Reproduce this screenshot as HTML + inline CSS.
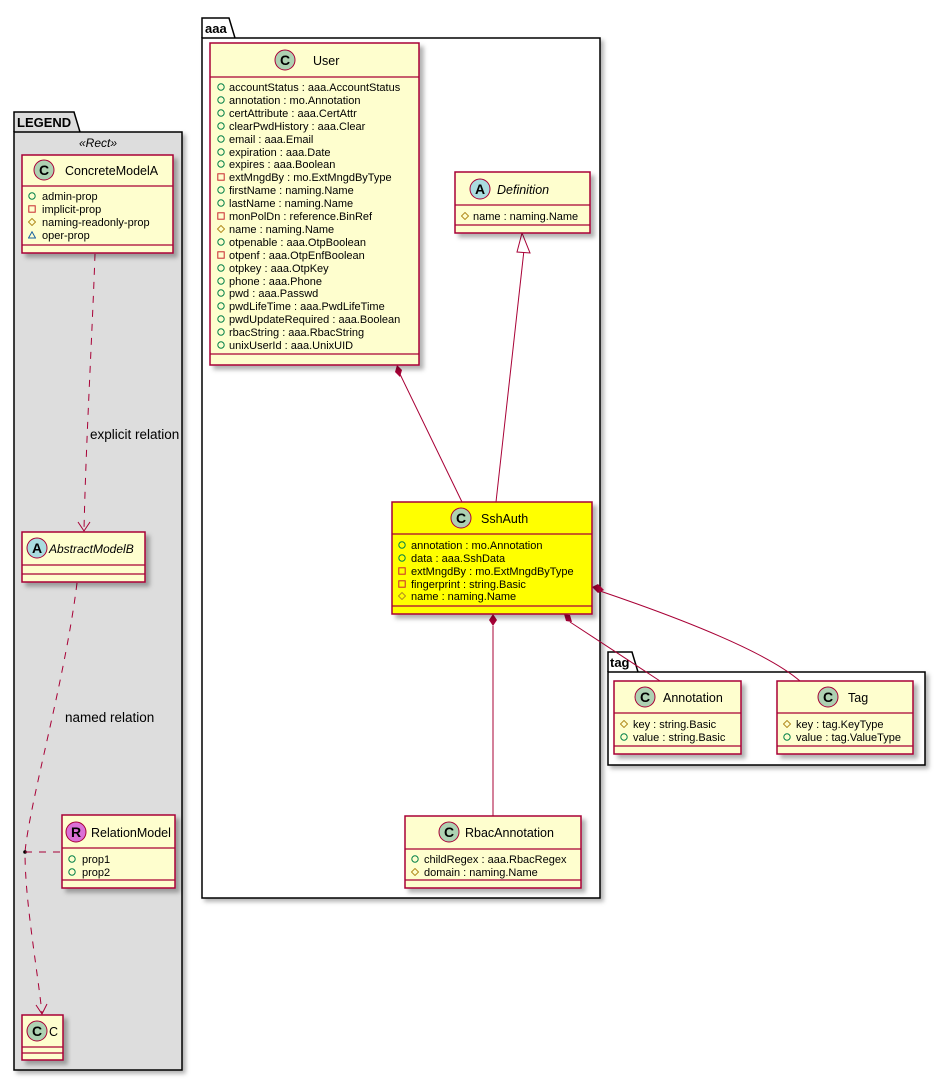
<!DOCTYPE html>
<html><head><meta charset="utf-8"><style>
html,body{margin:0;padding:0;background:#fff;}
svg{display:block;font-family:"Liberation Sans","DejaVu Sans",sans-serif;}
.a{font-size:11px;fill:#000;}
.h{font-size:12.5px;fill:#000;}
.cls{fill:#FEFECE;stroke:#A80036;stroke-width:1.5;filter:url(#sh);}
.sep{stroke:#A80036;stroke-width:1.2;}
.ln{stroke:#A80036;stroke-width:1;fill:none;}
.dl{stroke:#A80036;stroke-width:1;fill:none;stroke-dasharray:7,7;}
.pk{fill:#fff;stroke:#000;stroke-width:1.5;}
.pt{font-size:13px;font-weight:bold;fill:#000;}
</style></head><body>
<svg width="944" height="1080" viewBox="0 0 944 1080">
<defs>
<filter id="sh" x="-10%" y="-10%" width="130%" height="130%"><feDropShadow dx="4" dy="4" stdDeviation="2" flood-color="#000" flood-opacity="0.3"/></filter>
<filter id="sh2" x="-10%" y="-10%" width="130%" height="130%"><feDropShadow dx="3" dy="3" stdDeviation="2" flood-color="#000" flood-opacity="0.3"/></filter>
<symbol id="pub" viewBox="0 0 8 8" width="8" height="8"><circle cx="4" cy="4" r="3.2" fill="none" stroke="#038048" stroke-width="1"/></symbol>
<symbol id="priv" viewBox="0 0 8 8" width="8" height="8"><rect x="0.8" y="0.8" width="6.4" height="6.4" fill="none" stroke="#C82930" stroke-width="1"/></symbol>
<symbol id="prot" viewBox="0 0 8 8" width="8" height="8"><path d="M4 0.5 L7.5 4 L4 7.5 L0.5 4Z" fill="none" stroke="#B38D22" stroke-width="1"/></symbol>
<symbol id="pkg" viewBox="0 0 8 8" width="8" height="8"><path d="M4 0.8 L7.5 7 L0.5 7Z" fill="none" stroke="#1963A0" stroke-width="1"/></symbol>
</defs>

<!-- LEGEND package -->
<path class="pk" d="M14 132 L14 112 L74 112 L80 132" style="fill:#DDDDDD"/>
<rect x="14" y="132" width="168" height="938" fill="#DDDDDD" stroke="#000" stroke-width="1.5" filter="url(#sh2)"/>
<text x="17" y="127" class="pt">LEGEND</text>
<text x="98" y="147" text-anchor="middle" style="font-size:12px;font-style:italic">«Rect»</text>

<!-- aaa package -->
<path class="pk" d="M202 38 L202 18 L229 18 L235 38"/>
<rect x="202" y="38" width="398" height="860" class="pk" filter="url(#sh2)"/>
<text x="205" y="33" class="pt">aaa</text>

<!-- tag package -->
<path class="pk" d="M608 672 L608 652 L632 652 L638 672"/>
<rect x="608" y="672" width="317" height="93" class="pk" filter="url(#sh2)"/>
<text x="610" y="667" class="pt">tag</text>

<!-- Connectors -->
<path class="dl" d="M95 254 C92 340 86 440 84 530"/>
<path class="ln" d="M78 522 L84 531 L90 522"/>
<text x="90" y="439" style="font-size:13.5px">explicit relation</text>
<path class="dl" d="M77 583 C65 680 30 800 25 852 C25 900 36 960 42 1013"/>
<path class="ln" d="M36 1005 L42 1014 L47 1004"/>
<text x="65" y="722" style="font-size:13.5px">named relation</text>
<circle cx="25" cy="852" r="1.8" fill="#000"/>
<path class="dl" d="M25 852 L62 852"/>

<path class="ln" d="M398 370 L462 502"/>
<path d="M397 365 L402 370 L400 377 L395 372Z" fill="#A80036"/>
<path class="ln" d="M524 250 L496 502"/>
<path d="M522 233 L517 252 L530 253Z" fill="#fff" stroke="#A80036" stroke-width="1"/>
<path class="ln" d="M493 626 L493 816"/>
<path d="M493 614 L497 620 L493 626 L489 620Z" fill="#A80036"/>
<path class="ln" d="M570 622 L660 681"/>
<path d="M564 614 L570 615 L572 622 L566 621Z" fill="#A80036"/>
<path class="ln" d="M600 591 C700 625 770 655 800 681"/>
<path d="M592 587 L598 584 L604 590 L598 593Z" fill="#A80036"/>

<!-- ConcreteModelA -->
<rect class="cls" x="22" y="155" width="151" height="98"/>
<line class="sep" x1="22" y1="186" x2="173" y2="186"/><line class="sep" x1="22" y1="245" x2="173" y2="245"/>
<circle cx="44" cy="170" r="10" fill="#ADD1B2" stroke="#A80036"/><text x="44" y="175" text-anchor="middle" style="font-size:14px;font-weight:bold">C</text>
<text x="65" y="175" class="h">ConcreteModelA</text>
<use href="#pub" x="28" y="192"/><text x="42" y="200" class="a">admin-prop</text>
<use href="#priv" x="28" y="205"/><text x="42" y="213" class="a">implicit-prop</text>
<use href="#prot" x="28" y="218"/><text x="42" y="226" class="a">naming-readonly-prop</text>
<use href="#pkg" x="28" y="231"/><text x="42" y="239" class="a">oper-prop</text>

<!-- AbstractModelB -->
<rect class="cls" x="22" y="532" width="123" height="50"/>
<line class="sep" x1="22" y1="565" x2="145" y2="565"/><line class="sep" x1="22" y1="574" x2="145" y2="574"/>
<circle cx="37" cy="548" r="10" fill="#A9DCDF" stroke="#A80036"/><text x="37" y="553" text-anchor="middle" style="font-size:14px;font-weight:bold">A</text>
<text x="49" y="553" class="h" style="font-style:italic;font-size:12px">AbstractModelB</text>

<!-- RelationModel -->
<rect class="cls" x="62" y="815" width="113" height="73"/>
<line class="sep" x1="62" y1="848" x2="175" y2="848"/><line class="sep" x1="62" y1="880" x2="175" y2="880"/>
<circle cx="76" cy="832" r="10" fill="#DA70D6" stroke="#A80036"/><text x="76" y="837" text-anchor="middle" style="font-size:14px;font-weight:bold">R</text>
<text x="91" y="837" class="h">RelationModel</text>
<use href="#pub" x="68" y="855"/><text x="82" y="863" class="a">prop1</text>
<use href="#pub" x="68" y="868"/><text x="82" y="876" class="a">prop2</text>

<!-- C -->
<rect class="cls" x="22" y="1015" width="41" height="45"/>
<line class="sep" x1="22" y1="1047" x2="63" y2="1047"/><line class="sep" x1="22" y1="1053" x2="63" y2="1053"/>
<circle cx="37" cy="1031" r="10" fill="#ADD1B2" stroke="#A80036"/><text x="37" y="1036" text-anchor="middle" style="font-size:14px;font-weight:bold">C</text>
<text x="49" y="1036" class="h">C</text>

<!-- User -->
<rect class="cls" x="210" y="43" width="209" height="322"/>
<line class="sep" x1="210" y1="77" x2="419" y2="77"/><line class="sep" x1="210" y1="354" x2="419" y2="354"/>
<circle cx="285" cy="60" r="10" fill="#ADD1B2" stroke="#A80036"/><text x="285" y="65" text-anchor="middle" style="font-size:14px;font-weight:bold">C</text>
<text x="313" y="65" class="h">User</text>
<use href="#pub" x="217" y="83"/><text x="229" y="91" class="a">accountStatus : aaa.AccountStatus</text>
<use href="#pub" x="217" y="96"/><text x="229" y="104" class="a">annotation : mo.Annotation</text>
<use href="#pub" x="217" y="109"/><text x="229" y="117" class="a">certAttribute : aaa.CertAttr</text>
<use href="#pub" x="217" y="122"/><text x="229" y="130" class="a">clearPwdHistory : aaa.Clear</text>
<use href="#pub" x="217" y="135"/><text x="229" y="143" class="a">email : aaa.Email</text>
<use href="#pub" x="217" y="148"/><text x="229" y="156" class="a">expiration : aaa.Date</text>
<use href="#pub" x="217" y="160"/><text x="229" y="168" class="a">expires : aaa.Boolean</text>
<use href="#priv" x="217" y="173"/><text x="229" y="181" class="a">extMngdBy : mo.ExtMngdByType</text>
<use href="#pub" x="217" y="186"/><text x="229" y="194" class="a">firstName : naming.Name</text>
<use href="#pub" x="217" y="199"/><text x="229" y="207" class="a">lastName : naming.Name</text>
<use href="#priv" x="217" y="212"/><text x="229" y="220" class="a">monPolDn : reference.BinRef</text>
<use href="#prot" x="217" y="225"/><text x="229" y="233" class="a">name : naming.Name</text>
<use href="#pub" x="217" y="238"/><text x="229" y="246" class="a">otpenable : aaa.OtpBoolean</text>
<use href="#priv" x="217" y="251"/><text x="229" y="259" class="a">otpenf : aaa.OtpEnfBoolean</text>
<use href="#pub" x="217" y="264"/><text x="229" y="272" class="a">otpkey : aaa.OtpKey</text>
<use href="#pub" x="217" y="277"/><text x="229" y="285" class="a">phone : aaa.Phone</text>
<use href="#pub" x="217" y="289"/><text x="229" y="297" class="a">pwd : aaa.Passwd</text>
<use href="#pub" x="217" y="302"/><text x="229" y="310" class="a">pwdLifeTime : aaa.PwdLifeTime</text>
<use href="#pub" x="217" y="315"/><text x="229" y="323" class="a">pwdUpdateRequired : aaa.Boolean</text>
<use href="#pub" x="217" y="328"/><text x="229" y="336" class="a">rbacString : aaa.RbacString</text>
<use href="#pub" x="217" y="341"/><text x="229" y="349" class="a">unixUserId : aaa.UnixUID</text>

<!-- Definition -->
<rect class="cls" x="455" y="172" width="135" height="61"/>
<line class="sep" x1="455" y1="205" x2="590" y2="205"/><line class="sep" x1="455" y1="225" x2="590" y2="225"/>
<circle cx="480" cy="189" r="10" fill="#A9DCDF" stroke="#A80036"/><text x="480" y="194" text-anchor="middle" style="font-size:14px;font-weight:bold">A</text>
<text x="497" y="194" class="h" style="font-style:italic">Definition</text>
<use href="#prot" x="461" y="212"/><text x="473" y="220" class="a">name : naming.Name</text>

<!-- SshAuth -->
<rect class="cls" x="392" y="502" width="200" height="112" style="fill:#FFFF00"/>
<line class="sep" x1="392" y1="534" x2="592" y2="534"/><line class="sep" x1="392" y1="606" x2="592" y2="606"/>
<circle cx="461" cy="518" r="10" fill="#ADD1B2" stroke="#A80036"/><text x="461" y="523" text-anchor="middle" style="font-size:14px;font-weight:bold">C</text>
<text x="481" y="523" class="h">SshAuth</text>
<use href="#pub" x="398" y="541"/><text x="411" y="549" class="a">annotation : mo.Annotation</text>
<use href="#pub" x="398" y="554"/><text x="411" y="562" class="a">data : aaa.SshData</text>
<use href="#priv" x="398" y="567"/><text x="411" y="575" class="a">extMngdBy : mo.ExtMngdByType</text>
<use href="#priv" x="398" y="580"/><text x="411" y="588" class="a">fingerprint : string.Basic</text>
<use href="#prot" x="398" y="592"/><text x="411" y="600" class="a">name : naming.Name</text>

<!-- RbacAnnotation -->
<rect class="cls" x="405" y="816" width="176" height="72"/>
<line class="sep" x1="405" y1="849" x2="581" y2="849"/><line class="sep" x1="405" y1="880" x2="581" y2="880"/>
<circle cx="449" cy="832" r="10" fill="#ADD1B2" stroke="#A80036"/><text x="449" y="837" text-anchor="middle" style="font-size:14px;font-weight:bold">C</text>
<text x="465" y="837" class="h">RbacAnnotation</text>
<use href="#pub" x="411" y="855"/><text x="424" y="863" class="a">childRegex : aaa.RbacRegex</text>
<use href="#prot" x="411" y="868"/><text x="424" y="876" class="a">domain : naming.Name</text>

<!-- Annotation -->
<rect class="cls" x="614" y="681" width="127" height="73"/>
<line class="sep" x1="614" y1="713" x2="741" y2="713"/><line class="sep" x1="614" y1="746" x2="741" y2="746"/>
<circle cx="645" cy="697" r="10" fill="#ADD1B2" stroke="#A80036"/><text x="645" y="702" text-anchor="middle" style="font-size:14px;font-weight:bold">C</text>
<text x="663" y="702" class="h">Annotation</text>
<use href="#prot" x="620" y="720"/><text x="633" y="728" class="a">key : string.Basic</text>
<use href="#pub" x="620" y="733"/><text x="633" y="741" class="a">value : string.Basic</text>

<!-- Tag -->
<rect class="cls" x="777" y="681" width="136" height="73"/>
<line class="sep" x1="777" y1="713" x2="913" y2="713"/><line class="sep" x1="777" y1="746" x2="913" y2="746"/>
<circle cx="828" cy="697" r="10" fill="#ADD1B2" stroke="#A80036"/><text x="828" y="702" text-anchor="middle" style="font-size:14px;font-weight:bold">C</text>
<text x="848" y="702" class="h">Tag</text>
<use href="#prot" x="783" y="720"/><text x="796" y="728" class="a">key : tag.KeyType</text>
<use href="#pub" x="783" y="733"/><text x="796" y="741" class="a">value : tag.ValueType</text>
</svg>
</body></html>
